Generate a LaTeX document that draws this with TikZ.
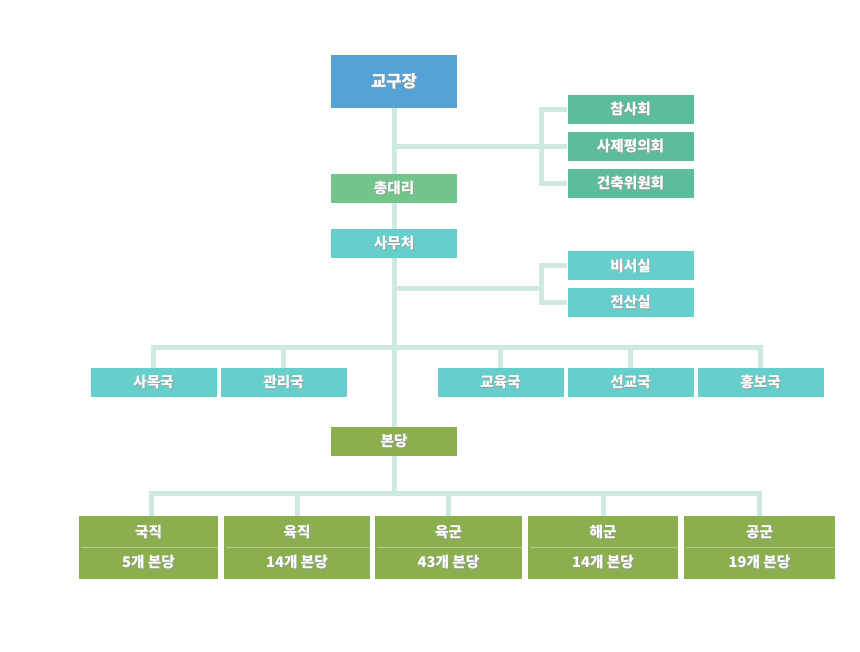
\documentclass[tikz,border=0pt]{standalone}
\usepackage{fontspec}
\newfontfamily\kr{Noto Sans CJK KR}
\definecolor{cblue}{HTML}{55A3D6}
\definecolor{cgreen}{HTML}{5BBD9B}
\definecolor{clgreen}{HTML}{73C48A}
\definecolor{cteal}{HTML}{66CFCC}
\definecolor{colive}{HTML}{8BAF4F}
\definecolor{cconn}{HTML}{CEE9E2}
\definecolor{cdiv}{HTML}{B4CF86}
\newcommand\shad[1]{\leavevmode\rlap{\kern0.7pt\raisebox{-0.7pt}{\textcolor{black!40}{#1}}}#1}
\tikzset{
  box/.style={rectangle, inner sep=0pt, minimum width=94.5pt, minimum height=21.75pt,
    text=white, font=\kr\bfseries\fontsize{11pt}{13pt}\selectfont},
  conn/.style={draw=cconn, line width=3.75pt},
  divline/.style={draw=cdiv, line width=0.75pt},
  bigbox/.style={rectangle, inner sep=0pt, minimum height=47.25pt, fill=colive},
  txt/.style={text=white, inner sep=0pt, font=\kr\bfseries\fontsize{11pt}{13pt}\selectfont},
}
\begin{document}
\begin{tikzpicture}[x=0.75pt,y=-0.75pt]
\useasboundingbox (0,0) rectangle (860,652);
% boxes
\node[box, fill=cblue, minimum height=39.75pt, font=\kr\bfseries\fontsize{12.5pt}{14pt}\selectfont] (gyogu) at (394,81.5) {\shad{교구장}};
\node[box, fill=cgreen] (cham) at (630.5,109.5) {\shad{참사회}};
\node[box, fill=cgreen] (saje) at (630.5,146.5) {\shad{사제평의회}};
\node[box, fill=cgreen] (geon) at (630.5,183.5) {\shad{건축위원회}};
\node[box, fill=clgreen] (chong) at (394,188.5) {\shad{총대리}};
\node[box, fill=cteal] (samu) at (394,243.5) {\shad{사무처}};
\node[box, fill=cteal] (biseo) at (630.5,266) {\shad{비서실}};
\node[box, fill=cteal] (jeonsan) at (630.5,302.5) {\shad{전산실}};
\node[box, fill=cteal] (samok) at (153.5,382.5) {\shad{사목국}};
\node[box, fill=cteal] (gwanri) at (283.5,382.5) {\shad{관리국}};
\node[box, fill=cteal] (gyoyuk) at (500.5,382.5) {\shad{교육국}};
\node[box, fill=cteal] (seongyo) at (630.5,382.5) {\shad{선교국}};
\node[box, fill=cteal] (hongbo) at (760.5,382.5) {\shad{홍보국}};
\node[box, fill=colive] (bondang) at (394,441.5) {\shad{본당}};
\node[bigbox, minimum width=104.25pt] (gukjik) at (148.5,547.5) {};
\node[bigbox, minimum width=109.5pt] (yukjik) at (297,547.5) {};
\node[bigbox, minimum width=110.25pt] (yukgun) at (448.5,547.5) {};
\node[bigbox, minimum width=112.5pt] (haegun) at (603,547.5) {};
\node[bigbox, minimum width=113.25pt] (gonggun) at (759.5,547.5) {};
\foreach \n in {gukjik,yukjik,yukgun,haegun,gonggun}{
  \draw[divline] ([xshift=2pt]\n.west) -- (\n.east);
}
\node[txt] at (148.5,532.5) {\shad{국직}};
\node[txt] at (148.5,562.5) {\shad{5개 본당}};
\node[txt] at (297,532.5) {\shad{육직}};
\node[txt] at (297,562.5) {\shad{14개 본당}};
\node[txt] at (448.5,532.5) {\shad{육군}};
\node[txt] at (448.5,562.5) {\shad{43개 본당}};
\node[txt] at (603,532.5) {\shad{해군}};
\node[txt] at (603,562.5) {\shad{14개 본당}};
\node[txt] at (759.5,532.5) {\shad{공군}};
\node[txt] at (759.5,562.5) {\shad{19개 본당}};
% junction coordinates
\coordinate (j1) at (394,146.5);
\coordinate (br1) at (541.5,146.5);
\coordinate (j2) at (394,289);
\coordinate (br2) at (541.5,289);
\coordinate (busA) at (394,347.5);
\coordinate (busB) at (394,493.5);
% connectors
\draw[conn] (gyogu.south) -- (chong.north);
\draw[conn] (chong.south) -- (samu.north);
\draw[conn] (samu.south) -- (bondang.north);
\draw[conn] (bondang.south) -- (busB);
\draw[conn] (j1) -- (saje.west);
\draw[conn] (cham.west) -| (br1) |- (geon.west);
\draw[conn] (j2) -- (br2);
\draw[conn] (biseo.west) -| (br2) |- (jeonsan.west);
\draw[conn] (samok.north) |- (busA) -| (hongbo.north);
\draw[conn] (gwanri.north) -- (gwanri.north |- busA);
\draw[conn] (gyoyuk.north) -- (gyoyuk.north |- busA);
\draw[conn] (seongyo.north) -- (seongyo.north |- busA);
\draw[conn] ([xshift=2.6pt]gukjik.north) |- (busB) -| (gonggun.north);
\draw[conn] (yukjik.north) -- (yukjik.north |- busB);
\draw[conn] (yukgun.north) -- (yukgun.north |- busB);
\draw[conn] (haegun.north) -- (haegun.north |- busB);
\end{tikzpicture}
\end{document}
